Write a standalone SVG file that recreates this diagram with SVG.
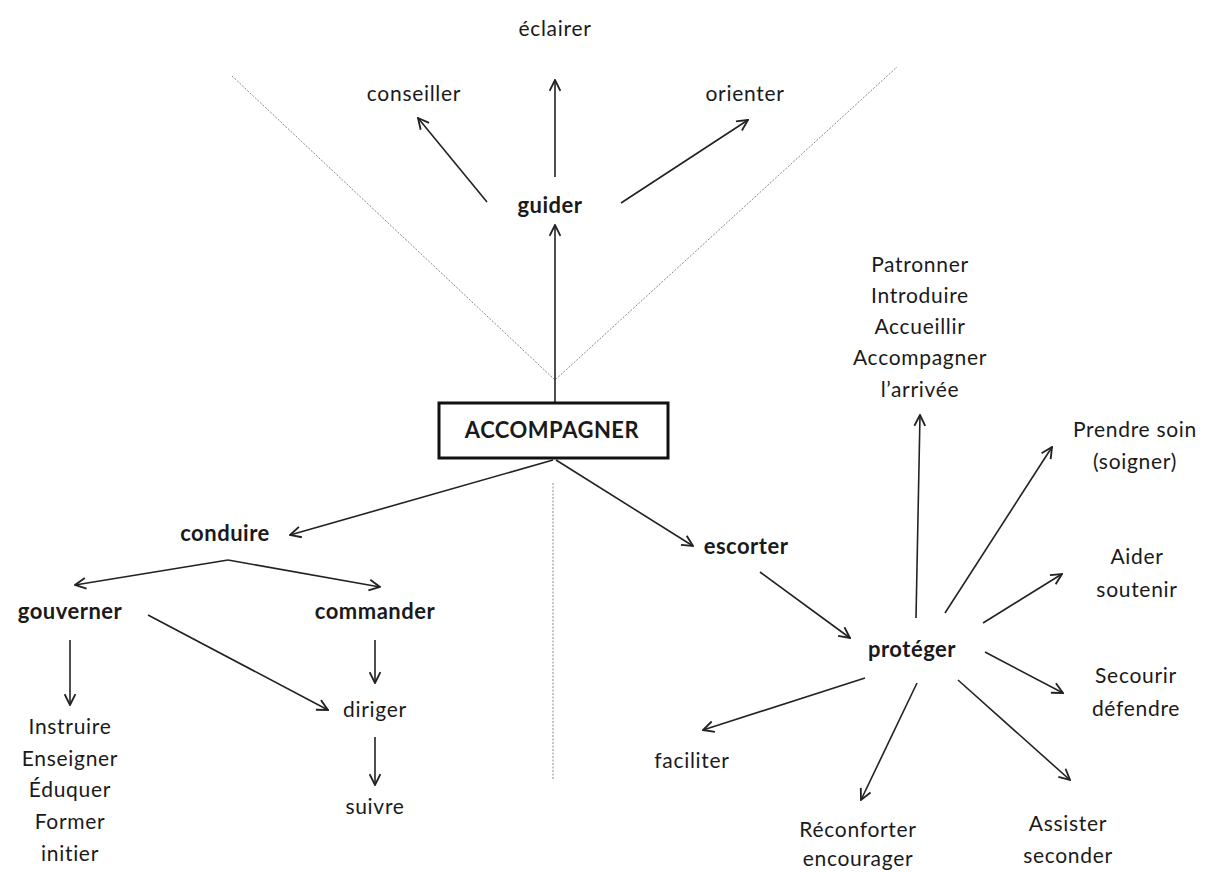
<svg xmlns="http://www.w3.org/2000/svg" width="1210" height="872" viewBox="0 0 1210 872">
<style>
text{font-family:Lato,"Open Sans","Liberation Sans",sans-serif;font-size:21px;letter-spacing:0.7px;fill:#1a1a1a;text-anchor:middle}
.b{font-weight:bold;font-size:22px;letter-spacing:0.5px}
.c{stroke:#222;stroke-width:1.6;fill:none;marker-end:url(#ah)}
.d{stroke:#888;stroke-width:1;fill:none;stroke-dasharray:2 1.5}
</style>
<defs>
<marker id="ah" viewBox="0 0 12 12" refX="11" refY="6" markerWidth="13" markerHeight="13" markerUnits="userSpaceOnUse" orient="auto">
<path d="M1,1 L11,6 L1,11" fill="none" stroke="#222" stroke-width="1.7"/>
</marker>
</defs>
<rect width="1210" height="872" fill="#fff"/>
<g id="guides">
<path class="d" d="M232,76 L555,380 L897,67"/>
<path class="d" d="M553,483 L553,780"/>
</g>
<g id="connectors">
<path class="c" d="M555,402 L555,225"/>
<path class="c" d="M555,177 L555,80"/>
<path class="c" d="M487,202 L418,118"/>
<path class="c" d="M621,203 L748,120"/>
<path class="c" d="M553,460 L290,535"/>
<path class="c" d="M556,460 L693,546"/>
<path class="c" d="M228,560 L75,585"/>
<path class="c" d="M228,560 L380,587"/>
<path class="c" d="M70,640 L70,705"/>
<path class="c" d="M148,615 L328,710"/>
<path class="c" d="M375,640 L375,683"/>
<path class="c" d="M375,737 L375,785"/>
<path class="c" d="M760,572 L850,638"/>
<path class="c" d="M916,618 L920,415"/>
<path class="c" d="M945,613 L1052,447"/>
<path class="c" d="M983,623 L1062,574"/>
<path class="c" d="M985,652 L1063,693"/>
<path class="c" d="M865,678 L703,730"/>
<path class="c" d="M917,683 L861,800"/>
<path class="c" d="M958,680 L1070,780"/>
</g>
<g id="accompagner">
<rect x="439" y="403" width="229" height="55" fill="#fff" stroke="#111" stroke-width="3"/>
<text class="b" x="552" y="438">ACCOMPAGNER</text>
</g>
<g id="guider"><text class="b" x="550" y="213">guider</text></g>
<g id="eclairer"><text x="555" y="36">éclairer</text></g>
<g id="conseiller"><text x="414" y="101">conseiller</text></g>
<g id="orienter"><text x="745" y="101">orienter</text></g>
<g id="conduire"><text class="b" x="225" y="541">conduire</text></g>
<g id="gouverner"><text class="b" x="70" y="619">gouverner</text></g>
<g id="commander"><text class="b" x="375" y="619">commander</text></g>
<g id="diriger"><text x="375" y="717">diriger</text></g>
<g id="suivre"><text x="375" y="814">suivre</text></g>
<g id="instruire">
<text x="70" y="734">Instruire</text>
<text x="70" y="766">Enseigner</text>
<text x="70" y="797">Éduquer</text>
<text x="70" y="829">Former</text>
<text x="70" y="861">initier</text>
</g>
<g id="escorter"><text class="b" x="746" y="554">escorter</text></g>
<g id="proteger"><text class="b" x="912" y="657">protéger</text></g>
<g id="patronner">
<text x="920" y="272">Patronner</text>
<text x="920" y="303">Introduire</text>
<text x="920" y="334">Accueillir</text>
<text x="920" y="365">Accompagner</text>
<text x="920" y="397">l’arrivée</text>
</g>
<g id="prendre">
<text x="1135" y="437">Prendre soin</text>
<text x="1135" y="469">(soigner)</text>
</g>
<g id="aider">
<text x="1137" y="564">Aider</text>
<text x="1137" y="597">soutenir</text>
</g>
<g id="secourir">
<text x="1136" y="683">Secourir</text>
<text x="1136" y="716">défendre</text>
</g>
<g id="faciliter"><text x="692" y="768">faciliter</text></g>
<g id="reconforter">
<text x="858" y="837">Réconforter</text>
<text x="858" y="866">encourager</text>
</g>
<g id="assister">
<text x="1068" y="831">Assister</text>
<text x="1068" y="863">seconder</text>
</g>
</svg>
